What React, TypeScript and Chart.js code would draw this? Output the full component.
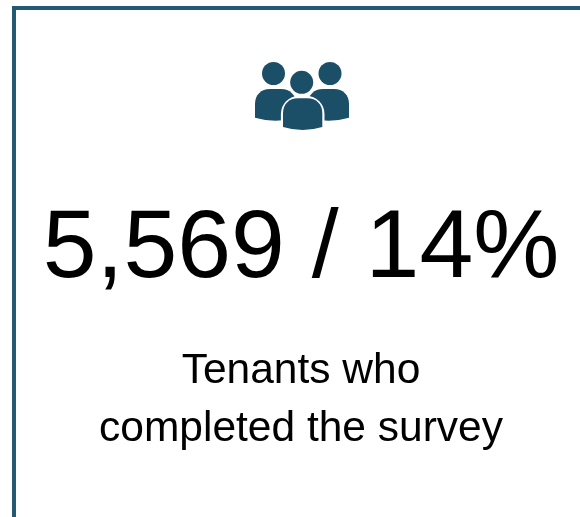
import React, { useEffect, useRef } from "react";
import { Chart, registerables } from "chart.js";

Chart.register(...registerables);

const tenantCount = ["5,569"];
const tenantShare = ["14%"];
const captionLines = ["Tenants who", "completed the survey"];
const BRAND = "#1b4f68";
const FRAME = "#235a73";

function person(ctx: CanvasRenderingContext2D, cx: number, headY: number, r: number, x0: number, x1: number, top: number, bottom: number, sag: number, rad: number) {
  ctx.beginPath();
  ctx.arc(cx, headY, r, 0, Math.PI * 2);
  ctx.fill();
  ctx.beginPath();
  ctx.moveTo(x0, bottom - sag);
  ctx.lineTo(x0, top + rad);
  ctx.bezierCurveTo(x0, top + rad * 0.4, x0 + rad * 0.4, top, x0 + rad, top);
  ctx.lineTo(x1 - rad, top);
  ctx.bezierCurveTo(x1 - rad * 0.4, top, x1, top + rad * 0.4, x1, top + rad);
  ctx.lineTo(x1, bottom - sag);
  ctx.quadraticCurveTo((x0 + x1) / 2, bottom + sag, x0, bottom - sag);
  ctx.closePath();
  ctx.fill();
}

const cardPlugin = {
  id: "card",
  beforeDraw(chart: Chart) {
    const ctx = chart.ctx;
    ctx.save();
    ctx.fillStyle = "#ffffff";
    ctx.fillRect(0, 0, chart.width, chart.height);
    ctx.fillStyle = FRAME;
    ctx.fillRect(12, 6, chart.width - 12, 4);
    ctx.fillRect(12, 6, 4, chart.height - 6);

    ctx.fillStyle = BRAND;
    person(ctx, 273.5, 73.5, 11.5, 255, 296, 89, 120.7, 3, 15);
    person(ctx, 330, 73.5, 11.5, 308, 349, 89, 120.7, 3, 15);
    ctx.fillStyle = "#ffffff";
    ctx.beginPath();
    ctx.arc(301.7, 82.3, 13.5, 0, Math.PI * 2);
    ctx.fill();
    ctx.beginPath();
    ctx.roundRect(280.9, 96, 43.6, 42, 18);
    ctx.fill();
    ctx.fillStyle = BRAND;
    person(ctx, 301.7, 82.3, 11.5, 283, 322.3, 98.3, 130, 3, 15);
    ctx.restore();
  },
};

export default function App() {
  const ref = useRef<HTMLCanvasElement>(null);
  useEffect(() => {
    document.body.style.margin = "0";
    const chart = new Chart(ref.current!, {
      type: "bar",
      data: { labels: [], datasets: [] },
      plugins: [cardPlugin],
      options: {
        animation: false,
        responsive: false,
        layout: { padding: { left: 22, right: 0, top: 0, bottom: 0 } },
        scales: { x: { display: false }, y: { display: false } },
        plugins: {
          legend: { display: false },
          tooltip: { enabled: false },
          title: {
            display: true,
            text: `${tenantCount[0]} / ${tenantShare[0]}`,
            color: "#000000",
            font: { family: "'Liberation Sans', Arial, sans-serif", size: 96.8, weight: "normal", lineHeight: 1 },
            padding: { top: 201.5, bottom: 43.7 },
          },
          subtitle: {
            display: true,
            text: captionLines,
            color: "#000000",
            font: { family: "'Liberation Sans', Arial, sans-serif", size: 42.5, weight: "normal", lineHeight: 1.37 },
            padding: 0,
          },
        },
      },
    });
    return () => chart.destroy();
  }, []);
  return <canvas ref={ref} width={580} height={517} style={{ display: "block" }} />;
}
